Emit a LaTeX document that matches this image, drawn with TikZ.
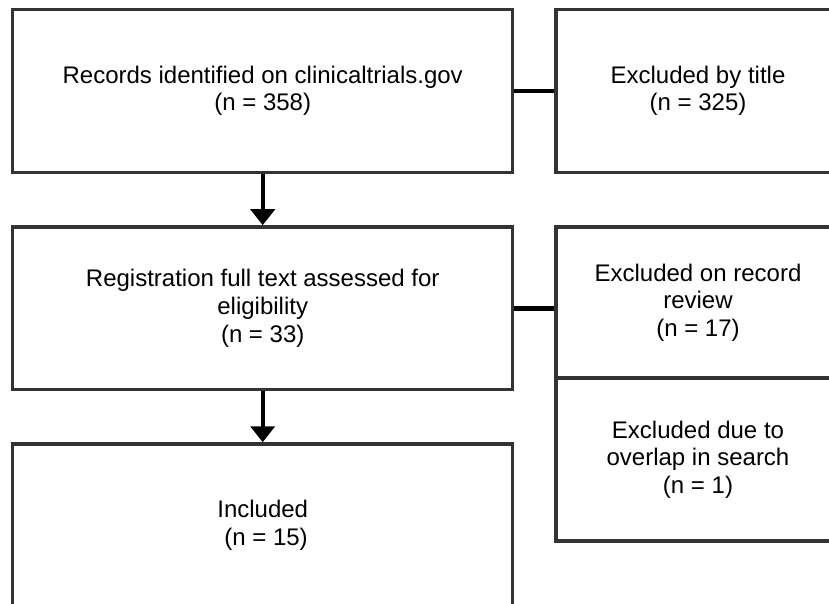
\documentclass[tikz,border=0pt]{standalone}
\usepackage{fontspec}
\setmainfont{Liberation Sans}
\usetikzlibrary{arrows.meta}
\definecolor{boxgray}{HTML}{333333}
\begin{document}
\begin{tikzpicture}[x=1pt,y=-1pt,
  box/.style={draw=boxgray, line width=3.5pt, fill=white, align=center,
    font=\fontsize{24}{27.6}\selectfont, inner sep=0pt, minimum width=500pt},
  sidebox/.style={box, minimum width=284pt},
  link/.style={draw=black, line width=4.5pt},
  flow/.style={draw=black, line width=4pt, -{Triangle[width=24pt,length=16pt]}}]
\useasboundingbox (0,0) rectangle (829,603);
\fill[white] (0,0) rectangle (829,603);
\clip (0,0) rectangle (829,603);

\node[box, minimum height=163pt] (b1) at (262.7,90.8)
  {Records identified on clinicaltrials.gov\\(n = 358)};
\node[sidebox, minimum height=163pt] (e1) at (698,90.8)
  {Excluded by title\\(n = 325)};
\node[box, minimum height=162.7pt] (b2) at (262.7,308.3)
  {Registration full text assessed for\\eligibility\\(n = 33)};
\node[sidebox, minimum height=151pt] (e2) at (698,302.5)
  {Excluded on record\\review\\(n = 17)};
\node[sidebox, minimum height=163pt] (e3) at (698,459.5)
  {Excluded due to\\overlap in search\\(n = 1)};
\node[box, minimum height=163pt] (b3) at (262.7,525.5)
  {Included\\~(n = 15)};

\draw[link] (b1.east) -- (e1.west);
\draw[link] (b2.east) -- (b2.east -| e2.west);
\draw[flow] (b1.south) -- (b2.north);
\draw[flow] (b2.south) -- (b3.north);
\end{tikzpicture}
\end{document}
